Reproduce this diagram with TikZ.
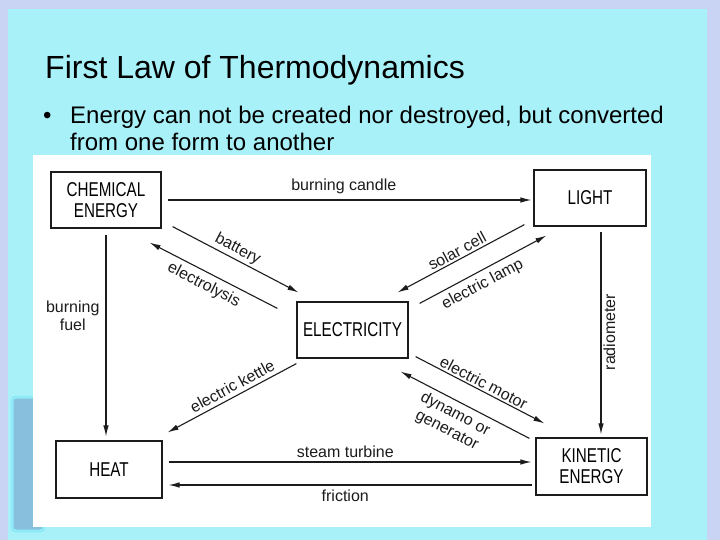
\documentclass[tikz,border=0pt]{standalone}
\usepackage{fontspec}
\setmainfont{Liberation Sans}
\newfontfamily\boxfont[FakeStretch=0.76]{Liberation Sans}
\usetikzlibrary{positioning, arrows.meta, calc}
\definecolor{slideout}{HTML}{C9D3F3}
\definecolor{slidein}{HTML}{A9F1F9}
\definecolor{ink}{HTML}{1C1C1C}
\definecolor{picframe}{HTML}{8EEAF7}
\definecolor{picfill}{HTML}{88BFDD}
\tikzset{
  form/.style  = {rectangle, draw=ink, line width=1.2pt, fill=white,
                  minimum width=110pt, minimum height=56pt, inner sep=0pt,
                  align=center, font=\boxfont\fontsize{20}{21}\selectfont},
  lbl/.style   = {inner sep=2pt, text=ink, font=\fontsize{16}{18}\selectfont},
  arr/.style   = {-{Latex[length=11pt,width=5.5pt]}, line width=1.1pt, draw=ink},
  arrl/.style  = {{Latex[length=11pt,width=5.5pt]}-, line width=1.1pt, draw=ink},
}
\begin{document}
\begin{tikzpicture}[x=1pt, y=-1pt]
  \useasboundingbox (0,0) rectangle (720,540);

  % ----- slide background -----
  \fill[slideout] (0,0) rectangle (720,540);
  \fill[slidein] (8,9) rectangle (707,540);
  \filldraw[fill=picfill, draw=picframe, line width=3pt, rounded corners=4pt]
       (12,397) rectangle (44,531);
  \fill[white] (33,155) rectangle (651,527);

  % ----- title and bullet -----
  \node[anchor=base west, inner sep=0pt, font=\fontsize{32}{36}\selectfont] (title)
       at (45,79) {First Law of Thermodynamics};
  \node[anchor=base west, inner sep=0pt, font=\fontsize{24}{27}\selectfont] (dot)
       at (43,124) {\textbullet};
  \node[anchor=base west, inner sep=0pt, font=\fontsize{24}{27}\selectfont] (law)
       at (70,124) {Energy can not be created nor destroyed, but converted};
  \node[anchor=base west, inner sep=0pt, font=\fontsize{24}{27}\selectfont] (law2)
       at (70,151) {from one form to another};

  % ----- forms of energy -----
  \node[form] (chem)  at (106,200)   {CHEMICAL\\ENERGY};
  \node[form, minimum width=112pt] (light) at (590,198) {LIGHT};
  \node[form, minimum width=111pt] (elec)  at (352.5,330) {ELECTRICITY};
  \node[form, minimum width=106pt, minimum height=57pt] (heat) at (109,469.5) {HEAT};
  \node[form, minimum width=111pt, minimum height=57pt] (kin)  at (591.5,466.5) {KINETIC\\ENERGY};

  % ----- outer conversions -----
  \draw[arr, shorten <=6pt, shorten >=2pt] (chem.east) -- (chem.east -| light.west)
       node[lbl, pos=0.49, above=4pt] {burning candle};
  \draw[arr, shorten <=6pt, shorten >=4pt] (chem.south) -- (chem.south |- heat.north)
       node[lbl, pos=0.41, left=4pt, align=center] {burning\\fuel};
  \draw[arr, shorten <=5pt, shorten >=3pt] ([xshift=11pt]light.south) -- ([xshift=11pt]light.south |- kin.north)
       node[lbl, midway, rotate=90, anchor=north] {radiometer};
  \draw[arr, shorten <=6pt, shorten >=4pt] ([yshift=7.5pt]heat.east) -- ([yshift=7.5pt]heat.east -| kin.west)
       node[lbl, pos=0.49, above=2pt] {steam turbine};
  \draw[arrl, shorten <=6pt, shorten >=3pt] ([yshift=-15.5pt]heat.east) -- ([yshift=-15.5pt]heat.east -| kin.west)
       node[lbl, pos=0.49, below=2pt] {friction};

  % ----- through electricity -----
  \draw[arr] ($(chem.south east)+(11,-2)$) -- ($(elec.north west)+(2,-9)$)
       node[lbl, pos=0.48, above, sloped] {battery};
  \draw[arrl] ($(chem.south east)+(-12,14)$) -- ($(elec.north west)+(-19,7)$)
       node[lbl, pos=0.47, below=3pt, sloped] {electrolysis};
  \draw[arrl] ($(elec.north east)+(-11,-9)$) -- ($(light.south west)+(-9,-2)$)
       node[lbl, pos=0.5, above, sloped] {solar cell};
  \draw[arr] ($(elec.north east)+(11,2)$) -- ($(light.south west)+(13,9)$)
       node[lbl, pos=0.45, below=3pt, sloped] {electric lamp};
  \draw[arrl] ($(heat.north east)+(5,-8)$) -- ($(elec.south west)+(0,5)$)
       node[lbl, pos=0.54, above=2pt, sloped] {electric kettle};
  \draw[arr] ($(elec.south east)+(7,-2)$) -- ($(kin.north west)+(9,-14)$)
       node[lbl, pos=0.5, above, sloped] {electric motor};
  \draw[arrl] ($(elec.south east)+(-8,13)$) -- ($(kin.north west)+(-6,1)$)
       node[lbl, pos=0.47, below=3pt, sloped, align=center] {dynamo or\\generator};

\end{tikzpicture}
\end{document}
